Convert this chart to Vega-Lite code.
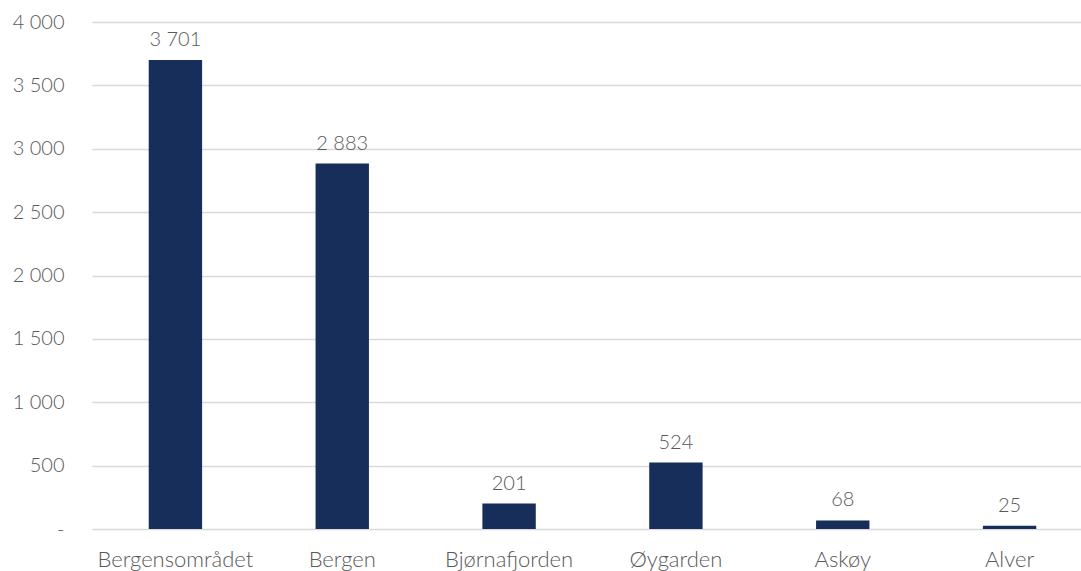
{
  "$schema": "https://vega.github.io/schema/vega-lite/v6.json",
  "autosize": {"type": "none"},
  "padding": {"left": 92, "top": 22, "right": 0, "bottom": 42},
  "width": 1001,
  "height": 507,
  "background": "white",
  "config": {
    "locale": {"number": {"decimal": ",", "thousands": " ", "grouping": [3], "currency": ["", ""]}},
    "view": {"stroke": null},
    "font": "Lato",
    "axis": {"labelFont": "Lato", "labelFontWeight": 300, "labelColor": "#595959", "labelFontSize": 20}
  },
  "data": {"values": [
    {"omrade": "Bergensområdet", "verdi": 3701},
    {"omrade": "Bergen", "verdi": 2883},
    {"omrade": "Bjørnafjorden", "verdi": 201},
    {"omrade": "Øygarden", "verdi": 524},
    {"omrade": "Askøy", "verdi": 68},
    {"omrade": "Alver", "verdi": 25}
  ]},
  "encoding": {
    "x": {"field": "omrade", "type": "nominal", "sort": null,
      "scale": {"paddingInner": 0.68, "paddingOuter": 0.34},
      "axis": {"title": null, "labelAngle": 0, "ticks": false, "domain": false, "labelPadding": 20, "labelBaseline": "top", "labelFontSize": 22}},
    "y": {"field": "verdi", "type": "quantitative",
      "scale": {"domain": [0, 4000]},
      "axis": {"title": null, "values": [0, 500, 1000, 1500, 2000, 2500, 3000, 3500, 4000],
        "labelExpr": "datum.value == 0 ? '-' : format(datum.value, ',')",
        "ticks": false, "domain": false, "labelPadding": 28, "gridColor": "#D9D9D9", "gridWidth": 1.5}}
  },
  "layer": [
    {"mark": {"type": "bar", "color": "#172D5A"}},
    {"mark": {"type": "text", "baseline": "bottom", "dy": -10, "font": "Lato", "fontWeight": 300, "fontSize": 20, "color": "#595959"},
      "encoding": {"text": {"field": "verdi", "type": "quantitative", "format": ","}}}
  ]
}
